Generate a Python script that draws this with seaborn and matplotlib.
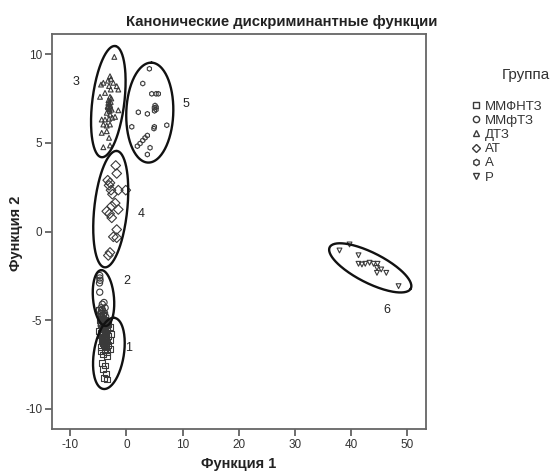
import numpy as np
import pandas as pd
import matplotlib
matplotlib.use("Agg")
import matplotlib.pyplot as plt
from matplotlib.lines import Line2D
import seaborn as sns

sns.set_style("white")
plt.rcParams['font.family'] = ['Liberation Sans', 'DejaVu Sans']
plt.rcParams['axes.unicode_minus'] = False

# ---------------- data ----------------
groups = ["ММФНТЗ", "ММфТЗ", "ДТЗ", "АТ", "А", "Р"]

g1_x = [-4.9, -4.6, -4.2, -4.8, -4.4, -4.0, -3.6, -3.2, -4.6, -4.2, -3.8, -3.4, -2.9, -4.9, -4.5, -4.1,
        -3.7, -3.3, -2.8, -4.3, -3.9, -3.5, -3.0, -4.0, -3.6, -3.2, -2.9, -3.8, -3.4, -4.4, -4.6,
        -4.59, -4.12, -3.41, -4.41, -3.82, -4.23, -4.0, -3.51, -3.6,
        -4.3, -4.1, -3.9, -4.0, -4.2, -3.8, -4.4, -3.7, -4.1, -3.9, -4.3, -3.6, -4.0, -3.8, -4.2,
        -3.5, -4.5, -3.9, -4.1, -3.7]
g1_y = [-4.4, -4.6, -4.7, -5.0, -5.0, -5.0, -5.1, -5.2, -5.3, -5.4, -5.5, -5.4, -5.4, -5.6, -5.7, -5.8,
        -5.8, -5.9, -5.8, -6.0, -6.1, -6.2, -6.1, -6.4, -6.5, -6.4, -6.6, -6.7, -6.8, -6.2, -6.5,
        -6.74, -6.93, -7.03, -7.40, -7.55, -7.77, -8.24, -8.34, -8.0,
        -4.9, -5.1, -5.2, -5.35, -5.5, -5.6, -5.45, -5.7, -5.75, -5.9, -5.65, -6.0, -6.05, -6.25,
        -6.3, -5.55, -5.85, -5.0, -6.15, -5.3]

g2_x = [-4.76, -4.76, -4.7, -4.8, -4.76, -4.3, -4.0, -4.5, -3.8, -4.2, -4.6, -3.9, -4.4, -4.1, -3.7,
        -4.3, -4.0, -4.6, -3.8, -4.2, -4.5, -4.3, -4.1, -4.4]
g2_y = [-2.48, -2.62, -2.75, -2.9, -3.42, -4.1, -4.0, -4.3, -4.3, -4.5, -4.6, -4.6, -4.8, -4.9, -4.8,
        -5.1, -5.2, -5.0, -5.4, -5.5, -5.3, -4.4, -4.7, -4.95]

g3_x = [-2.16, -2.93, -2.75, -4.12, -4.53, -2.34, -1.73, -1.45, -3.82, -4.71, -2.93, -3.23, -3.34,
        -2.93, -2.62, -1.45, -3.51, -2.93, -4.41, -3.82, -3.10, -2.52, -2.03, -4.12, -3.51, -2.93,
        -4.41, -3.51, -3.10, -2.93, -4.12, -3.0, -3.2, -2.9, -3.1, -2.8, -3.3, -3.0, -2.7, -3.1,
        -3.3, -2.8]
g3_y = [9.84, 8.75, 8.60, 8.38, 8.28, 8.38, 8.19, 8.00, 7.81, 7.59, 7.59, 7.25, 7.06,
        6.97, 6.87, 6.83, 6.69, 6.59, 6.31, 6.31, 6.35, 6.41, 6.46, 6.03, 5.97, 6.03,
        5.56, 5.65, 5.28, 4.85, 4.75, 7.2, 7.4, 7.1, 6.9, 7.3, 7.0, 6.8, 7.5, 8.2,
        8.5, 8.0]

g4_x = [-1.91, -1.73, -3.34, -2.93, -2.75, -1.45, -0.12, -3.51, -2.62, -1.45, -2.62, -1.73, -2.34,
        -1.73, -3.23, -2.93, -3.1, -2.5, -3.0, -2.0]
g4_y = [3.72, 3.27, 2.89, 2.74, 2.33, 2.33, 2.33, 1.14, 1.43, 1.24, 0.77, 0.11, -0.30,
        -0.35, -1.35, -1.18, 2.6, 2.1, 1.0, 1.6]

g5_x = [4.09, 2.91, 4.51, 5.28, 5.69, 4.98, 5.28, 2.12, 3.73, 4.98, 0.95, 7.19, 3.73, 3.32, 2.91,
        2.43, 1.94, 4.21, 3.73, 5.1, 5.0, 5.3, 4.9]
g5_y = [9.17, 8.34, 7.76, 7.76, 7.76, 6.97, 6.87, 6.72, 6.63, 5.90, 5.90, 5.99, 5.41, 5.28, 5.13,
        4.96, 4.81, 4.72, 4.34, 7.1, 6.8, 7.0, 5.8]

g6_x = [37.98, 39.77, 41.37, 41.37, 41.98, 42.57, 43.34, 44.05, 44.76, 44.66, 45.42, 44.66, 46.32, 48.51]
g6_y = [-1.07, -0.73, -1.34, -1.82, -1.86, -1.82, -1.76, -1.82, -1.82, -2.05, -2.14, -2.33, -2.33, -3.08]

# ellipses: center (data), semi-axes in pixels, angle of major axis from horizontal (deg)
ell_labels = ["1", "2", "3", "4", "5", "6"]
ell_cx = [-3.13, -4.09, -3.23, -2.8, 4.16, 43.46]
ell_cy = [-6.87, -3.75, 7.32, 1.26, 6.70, -2.05]
ell_a = [36, 28, 56, 58.5, 50, 45.5]
ell_b = [15, 10.5, 16, 16.5, 23.5, 15]
ell_ang = [81, 95, 83, 84, 88, -27]
lab_x = [0.4, 0.15, -9.0, 2.6, 10.6, 46.5]
lab_y = [-6.55, -2.8, 8.4, 1.0, 7.2, -4.4]

xticks = [-10, 0, 10, 20, 30, 40, 50]
yticks = [-10, -5, 0, 5, 10]

# ---------------- frame ----------------
xs = [g1_x, g2_x, g3_x, g4_x, g5_x, g6_x]
ys = [g1_y, g2_y, g3_y, g4_y, g5_y, g6_y]
df = pd.concat([pd.DataFrame({"f1": x, "f2": y, "group": g}) for x, y, g in zip(xs, ys, groups)],
               ignore_index=True)

markers = {"ММФНТЗ": "s", "ММфТЗ": "o", "ДТЗ": "^", "АТ": "D", "А": "h", "Р": "v"}
sizes = {"ММФНТЗ": 18, "ММфТЗ": 20, "ДТЗ": 12, "АТ": 24, "А": 12, "Р": 12}

W, H = 553, 472
fig = plt.figure(figsize=(W / 100, H / 100), dpi=100)
ax = fig.add_axes([52 / W, 1 - 429 / H, (426 - 52) / W, (429 - 34) / H])

ec = "#3a3a3a"
for g in groups:
    sub = df[df["group"] == g]
    sns.scatterplot(data=sub, x="f1", y="f2", marker=markers[g], s=sizes[g],
                    fc="none", ec=ec, linewidth=0.8, legend=False, ax=ax, zorder=3)

xlim = (-13.27, 53.4)
ylim = (-11.13, 11.13)
ax.set_xlim(*xlim)
ax.set_ylim(*ylim)

# ellipses drawn in pixel-space then mapped to data
sx = (426 - 52) / (xlim[1] - xlim[0])
sy = (429 - 34) / (ylim[1] - ylim[0])
t = np.linspace(0, 2 * np.pi, 200)
for cx, cy, a, b, ang, lab, lx, ly in zip(ell_cx, ell_cy, ell_a, ell_b, ell_ang, ell_labels, lab_x, lab_y):
    th = np.deg2rad(ang)
    dx = a * np.cos(t) * np.cos(th) - b * np.sin(t) * np.sin(th)
    dy = a * np.cos(t) * np.sin(th) + b * np.sin(t) * np.cos(th)
    ax.plot(cx + dx / sx, cy + dy / sy, color="#111111", lw=1.7, zorder=4)
    ax.text(lx, ly, lab, fontsize=9, color="#222222", ha="center", va="center")

ax.set_xticks(xticks)
ax.set_yticks(yticks)
ax.tick_params(axis="both", which="both", direction="out", length=5, width=1.2,
               color="#555555", labelsize=8.5, labelcolor="#333333", pad=2,
               bottom=True, left=True, top=False, right=False)
for sp in ax.spines.values():
    sp.set_color("#666666")
    sp.set_linewidth(1.3)
ax.set_xlabel("")
ax.set_ylabel("")

fig.text(239 / W, 1 - 464 / H, "Функция 1", ha="center", va="center",
         fontsize=10.5, fontweight="bold", color="#222222")
fig.text(16 / W, 1 - 233 / H, "Функция 2", ha="center", va="center", rotation=90,
         fontsize=10.5, fontweight="bold", color="#222222")
fig.text(282 / W, 1 - 22 / H, "Канонические дискриминантные функции", ha="center", va="center",
         fontsize=10.7, fontweight="bold", color="#222222")

fig.text(526 / W, 1 - 75 / H, "Группа", ha="center", va="center", fontsize=11, color="#333333")
handles = [Line2D([], [], linestyle="none", marker=markers[g], markersize=4.5,
                  markerfacecolor="none", markeredgecolor=ec, markeredgewidth=1.0) for g in groups]
leg = fig.legend(handles, groups, loc="center left",
                 bbox_to_anchor=(458.4 / W, 1 - 142 / H), frameon=False, fontsize=9.5,
                 handletextpad=0.28, labelspacing=0.15, handlelength=0.8, borderpad=0.4)
for txt in leg.get_texts():
    txt.set_color("#333333")

fig.savefig("out.png", dpi=100)
